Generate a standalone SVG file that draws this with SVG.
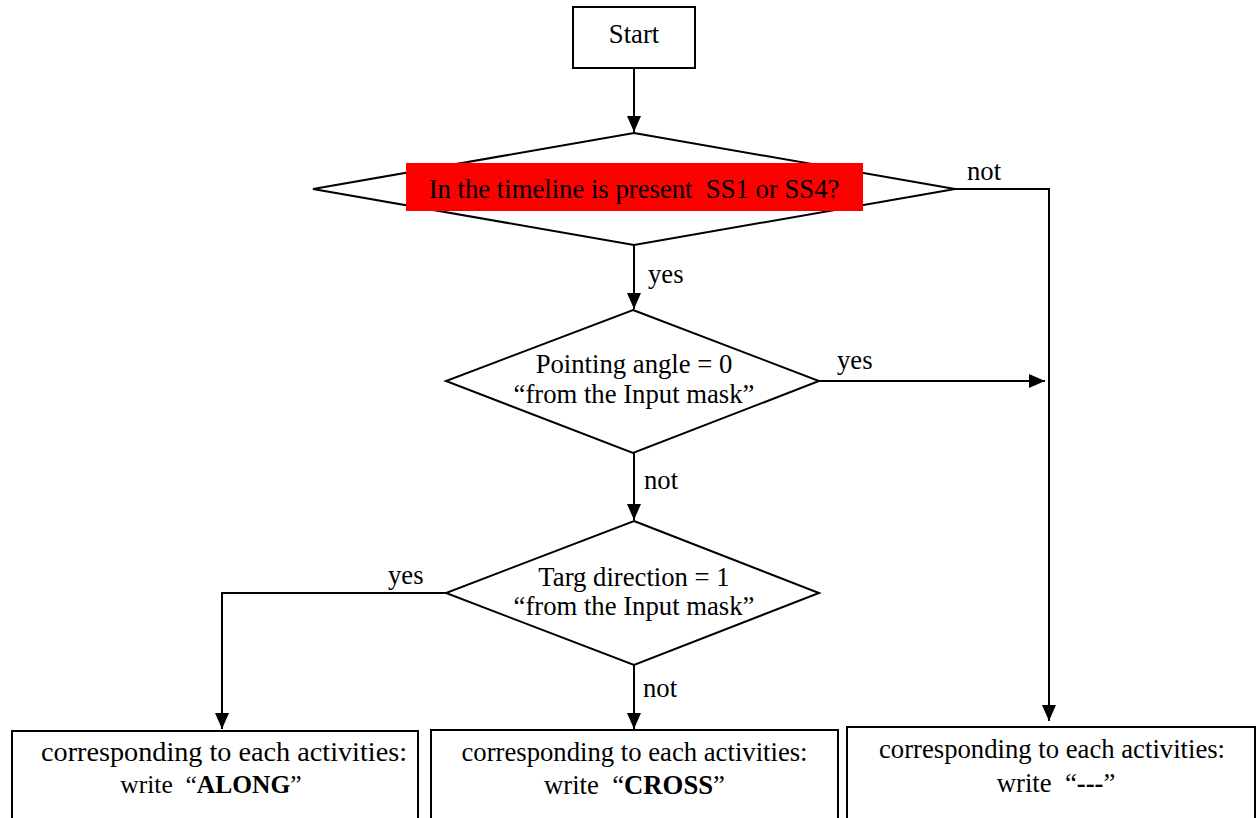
<svg xmlns="http://www.w3.org/2000/svg" width="1256" height="818" viewBox="0 0 1256 818" font-family="'Liberation Serif','Times New Roman',serif">
<style>
text{font-family:"Liberation Serif","Times New Roman",serif;font-size:26.7px;fill:#000;white-space:pre}
.c{text-anchor:middle}
.b{font-weight:bold}
.shape{fill:#fff;stroke:#000;stroke-width:2}
.edge{fill:none;stroke:#000;stroke-width:2}
</style>
<defs>
<marker id="ah" viewBox="0 0 16 14" refX="16" refY="7" markerWidth="16" markerHeight="14" markerUnits="userSpaceOnUse" orient="auto">
<path d="M0,0 L16,7 L0,14 z" fill="#000"/>
</marker>
</defs>
<rect width="1256" height="818" fill="#fff"/>
<g id="connectors">
<path class="edge" d="M634,68 V132" marker-end="url(#ah)"/>
<path class="edge" d="M634,245 V309" marker-end="url(#ah)"/>
<path class="edge" d="M955,189 H1049 V721" marker-end="url(#ah)"/>
<path class="edge" d="M819,381 H1045" marker-end="url(#ah)"/>
<path class="edge" d="M634,453 V520" marker-end="url(#ah)"/>
<path class="edge" d="M446,593 H222 V729" marker-end="url(#ah)"/>
<path class="edge" d="M634,665 V729" marker-end="url(#ah)"/>
<text x="648" y="283">yes</text>
<text x="967" y="180">not</text>
<text x="837" y="369">yes</text>
<text x="644" y="489">not</text>
<text x="388" y="584">yes</text>
<text x="643" y="697">not</text>
</g>
<g id="start">
<rect class="shape" x="573" y="7" width="122" height="61"/>
<text class="c" x="634" y="43">Start</text>
</g>
<g id="decision1">
<polygon class="shape" points="634,133 955,189 634,245 313,189"/>
<rect x="406" y="163" width="457" height="48" fill="#ff0000"/>
<text class="c" x="634" y="198">In the timeline is present  SS1 or SS4?</text>
</g>
<g id="decision2">
<polygon class="shape" points="633,310 819,381 633,453 446,381"/>
<text class="c" x="634" y="373">Pointing angle = 0</text>
<text class="c" x="634" y="403">“from the Input mask”</text>
</g>
<g id="decision3">
<polygon class="shape" points="634,521 819,593 634,665 446,593"/>
<text class="c" x="634" y="586">Targ direction = 1</text>
<text class="c" x="634" y="615">“from the Input mask”</text>
</g>
<g id="along">
<rect class="shape" x="12" y="731" width="406" height="100"/>
<text class="c" x="224" y="761" textLength="366" lengthAdjust="spacingAndGlyphs">corresponding to each activities:</text>
<text class="c" x="211" y="793" style="font-size:25.5px">write  “<tspan class="b">ALONG</tspan>”</text>
</g>
<g id="cross">
<rect class="shape" x="431" y="730" width="407" height="100"/>
<text class="c" x="634.5" y="761">corresponding to each activities:</text>
<text class="c" x="634.5" y="794">write  “<tspan class="b">CROSS</tspan>”</text>
</g>
<g id="dash">
<rect class="shape" x="847" y="727" width="408" height="100"/>
<text class="c" x="1052" y="758">corresponding to each activities:</text>
<text class="c" x="1056" y="792">write  “<tspan class="b">---</tspan>”</text>
</g>
</svg>
